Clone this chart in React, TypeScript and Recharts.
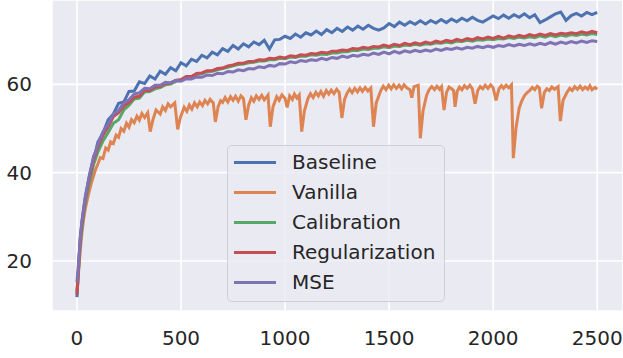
import { LineChart, Line, XAxis, YAxis, CartesianGrid, Legend } from 'recharts';

// training steps shared by the four smooth curves
const steps = [
  0, 8, 16, 24, 32, 40, 50, 60, 70, 80, 90, 100,
  125, 150, 175, 200, 225, 250, 275, 300, 325, 350,
  375, 400, 425, 450, 475, 500, 525, 550, 575, 600,
  625, 650, 675, 700, 725, 750, 775, 800, 825, 850,
  875, 900, 925, 950, 975, 1000, 1025, 1050, 1075, 1100,
  1125, 1150, 1175, 1200, 1225, 1250, 1275, 1300, 1325, 1350,
  1375, 1400, 1425, 1450, 1475, 1500, 1525, 1550, 1575, 1600,
  1625, 1650, 1675, 1700, 1725, 1750, 1775, 1800, 1825, 1850,
  1875, 1900, 1925, 1950, 1975, 2000, 2025, 2050, 2075, 2100,
  2125, 2150, 2175, 2200, 2225, 2250, 2275, 2300, 2325, 2350,
  2375, 2400, 2425, 2450, 2475, 2500,
];

const baseline = [
  11.8, 18.6, 25.2, 28.9, 31.6, 34.3, 36.9, 39.4, 41.3, 43.7, 44.8, 46.9,
  49.0, 52.0, 53.3, 55.7, 56.0, 58.4, 58.5, 60.6, 60.2, 61.9,
  61.2, 63.0, 62.3, 63.8, 63.1, 64.9, 64.2, 65.7, 65.2, 66.6,
  66.0, 67.3, 66.7, 68.1, 67.5, 68.8, 68.0, 69.2, 68.5, 69.6,
  69.0, 70.0, 68.0, 70.1, 70.2, 70.9, 70.4, 71.4, 70.7, 71.7,
  71.2, 72.1, 71.3, 72.4, 71.7, 72.7, 72.0, 73.0, 72.3, 73.2,
  72.5, 73.4, 72.7, 72.3, 72.8, 73.8, 73.1, 74.1, 73.4, 74.2,
  73.6, 74.4, 73.7, 74.5, 73.9, 74.7, 74.0, 74.8, 74.2, 75.0,
  74.4, 75.2, 74.5, 74.1, 74.8, 75.5, 74.9, 75.7, 75.0, 75.8,
  75.2, 76.0, 75.1, 75.8, 74.0, 74.6, 75.3, 76.0, 76.4, 74.5,
  75.6, 76.1, 75.5, 76.3, 75.8, 76.3,
];

const calibration = [
  12.8, 18.2, 24.0, 27.6, 30.5, 33.0, 35.5, 37.8, 39.8, 41.9, 43.2, 44.6,
  47.2, 49.1, 51.2, 52.0, 54.2, 55.3, 56.7, 56.9, 58.3, 58.4,
  59.0, 59.3, 59.9, 60.1, 60.7, 60.9, 61.6, 61.7, 62.3, 62.4,
  62.9, 63.0, 63.3, 63.6, 63.9, 64.2, 64.5, 64.6, 64.9, 65.0,
  65.3, 65.3, 65.6, 65.6, 65.9, 65.8, 66.2, 66.1, 66.4, 66.4,
  66.7, 66.6, 66.9, 66.8, 67.1, 67.1, 67.4, 67.4, 67.7, 67.7,
  68.0, 67.9, 68.2, 68.2, 68.5, 68.3, 68.7, 68.6, 68.9, 68.8,
  69.1, 68.9, 69.2, 69.1, 69.4, 69.3, 69.6, 69.4, 69.8, 69.7,
  70.0, 69.8, 70.1, 70.0, 70.3, 70.1, 70.4, 70.3, 70.6, 70.4,
  70.7, 70.5, 70.8, 70.6, 71.0, 70.7, 71.1, 70.8, 71.2, 70.9,
  71.3, 71.1, 71.4, 71.2, 71.5, 71.3,
];

const regularization = [
  12.3, 18.9, 24.8, 28.4, 31.3, 33.9, 36.4, 38.8, 40.8, 42.9, 44.3, 45.8,
  48.5, 50.4, 52.7, 53.6, 55.1, 55.9, 57.1, 57.3, 58.7, 58.6,
  59.4, 59.5, 60.2, 60.3, 60.9, 61.1, 61.8, 61.8, 62.5, 62.6,
  63.1, 63.1, 63.6, 63.7, 64.2, 64.4, 64.8, 64.8, 65.2, 65.2,
  65.6, 65.5, 65.9, 65.8, 66.2, 66.0, 66.5, 66.3, 66.7, 66.6,
  67.0, 66.9, 67.3, 67.1, 67.5, 67.5, 67.8, 67.7, 68.1, 68.0,
  68.4, 68.2, 68.6, 68.5, 68.9, 68.6, 69.1, 68.8, 69.3, 69.0,
  69.4, 69.1, 69.6, 69.3, 69.8, 69.5, 70.0, 69.7, 70.2, 69.9,
  70.4, 70.1, 70.6, 70.3, 70.7, 70.4, 70.9, 70.5, 71.0, 70.7,
  71.1, 70.8, 71.3, 71.0, 71.4, 71.1, 71.5, 71.2, 71.6, 71.4,
  71.7, 71.5, 71.9, 71.6, 72.0, 71.7,
];

const mse = [
  15.2, 19.8, 25.5, 29.0, 32.0, 34.6, 37.0, 39.4, 41.6, 43.5, 44.8, 46.4,
  49.2, 51.0, 53.3, 54.1, 55.8, 56.5, 57.8, 58.1, 59.1, 59.0,
  59.8, 59.8, 60.5, 60.4, 60.9, 60.7, 61.3, 61.2, 61.7, 61.6,
  62.1, 62.0, 62.5, 62.4, 62.9, 62.8, 63.3, 63.1, 63.6, 63.5,
  64.0, 63.8, 64.3, 64.1, 64.7, 64.6, 65.1, 64.9, 65.4, 65.2,
  65.6, 65.4, 65.9, 65.6, 66.1, 65.9, 66.4, 66.1, 66.6, 66.4,
  66.8, 66.6, 67.1, 66.8, 67.3, 66.9, 67.5, 67.1, 67.6, 67.3,
  67.7, 67.4, 67.8, 67.5, 68.0, 67.7, 68.1, 67.9, 68.3, 68.0,
  68.4, 68.2, 68.6, 68.3, 68.7, 68.4, 68.8, 68.6, 69.0, 68.7,
  69.1, 68.8, 69.2, 68.9, 69.3, 69.0, 69.5, 69.1, 69.6, 69.3,
  69.7, 69.4, 69.8, 69.5, 69.9, 69.7,
];

// vanilla has its own steps so the sharp dips land where they are
const vanillaSteps = [
  0, 8, 16, 24, 32, 40, 50, 60, 70, 80, 90, 100,
  112, 125, 138, 150, 162, 175, 188, 200, 212, 225, 238, 250, 262, 275, 288, 300, 312, 325,
  340, 352, 365, 380, 400, 412, 425, 438, 450, 470,
  484, 497, 515, 528, 540, 552, 565, 578, 590, 603, 615, 628, 640,
  655, 665, 678, 690, 700, 712, 725, 738, 750, 762, 775, 788, 800,
  812, 825, 838, 850, 862, 875, 888, 900, 918, 929, 942,
  960, 972, 985, 1000, 1010, 1022, 1035, 1045, 1057, 1068,
  1080, 1093, 1110, 1122, 1135, 1148, 1160, 1172, 1185, 1198, 1210,
  1222, 1235, 1248, 1260, 1273, 1286, 1298, 1310, 1322, 1335, 1348, 1360,
  1372, 1385, 1398, 1412, 1425, 1438, 1460, 1472, 1485, 1498, 1510,
  1522, 1535, 1548, 1560, 1572, 1585, 1600, 1609, 1620, 1640,
  1650, 1663, 1680, 1692, 1705, 1718, 1730, 1742, 1752, 1764,
  1776, 1788, 1800, 1810, 1817, 1827, 1838, 1850, 1862, 1875,
  1888, 1900, 1913, 1926, 1938, 1950, 1962, 1975, 1988, 2000, 2014,
  2028, 2040, 2050, 2062, 2075, 2088, 2097, 2110, 2125,
  2138, 2150, 2162, 2175, 2188, 2200, 2212, 2222, 2233, 2246, 2258, 2270,
  2282, 2295, 2312, 2323, 2336, 2355, 2368, 2380, 2392, 2405,
  2418, 2430, 2442, 2455, 2465, 2475, 2490, 2500,
];

const vanilla = [
  13.2, 17.8, 22.5, 26.5, 29.5, 31.8, 34.0, 36.0, 37.8, 39.3, 40.8, 41.9,
  43.4, 43.2, 45.6, 45.1, 47.0, 46.6, 48.5, 48.0, 50.0, 49.4, 51.2, 50.3, 52.0, 51.3, 52.8, 51.9, 53.4, 52.5,
  53.6, 49.3, 52.0, 54.2, 53.3, 54.9, 54.1, 55.6, 54.9, 55.8,
  49.8, 52.5, 54.8, 53.9, 55.3, 54.4, 55.8, 54.9, 56.0, 55.2, 56.4, 55.6, 56.6,
  55.8, 51.5, 54.9, 56.3, 55.9, 57.0, 56.0, 57.2, 56.4, 57.3, 56.2, 57.4, 56.8,
  52.0, 55.3, 57.0, 56.2, 57.4, 56.6, 57.5, 56.5, 57.6, 50.4, 54.9,
  57.2, 56.4, 57.6, 56.8, 54.8, 57.4, 56.6, 57.8, 56.9, 57.6,
  49.3, 54.0, 56.8, 57.9, 57.0, 58.2, 57.4, 58.4, 57.3, 58.6, 57.8,
  58.7, 57.9, 58.9, 58.2, 52.4, 56.6, 58.0, 58.9, 58.1, 59.1, 58.3, 59.2,
  58.4, 59.3, 58.5, 59.2, 50.4, 55.8, 58.6, 59.6, 58.8, 59.8, 59.0,
  59.9, 59.1, 59.8, 59.0, 59.9, 59.2, 58.8, 57.0, 59.5, 59.8,
  47.8, 54.0, 57.5, 58.8, 59.5, 58.8, 59.6, 58.9, 59.5, 54.2,
  58.2, 59.4, 59.0, 58.6, 54.9, 58.4, 59.4, 58.8, 59.7, 59.1,
  59.8, 59.0, 55.6, 58.6, 59.5, 59.0, 59.8, 59.1, 59.9, 59.2, 56.4,
  59.0, 59.7, 59.1, 59.8, 59.2, 59.9, 43.3, 50.2, 54.6,
  56.3, 57.4, 58.1, 58.6, 59.3, 58.8, 59.6, 59.2, 54.6, 58.2, 59.0, 58.6,
  59.4, 58.9, 59.5, 51.7, 56.4, 58.2, 59.1, 58.6, 59.5, 58.9,
  59.6, 58.8, 59.4, 58.9, 59.7, 58.8, 59.3, 58.9,
];

const xTicks = [0, 500, 1000, 1500, 2000, 2500];
const yTicks = [20, 40, 60];

const series = [
  { name: 'Baseline', color: '#4C72B0' },
  { name: 'Vanilla', color: '#DD8452' },
  { name: 'Calibration', color: '#55A868' },
  { name: 'Regularization', color: '#C44E52' },
  { name: 'MSE', color: '#8172B3' },
];

const rows = steps.map((x, i) => ({
  x,
  Baseline: baseline[i],
  Calibration: calibration[i],
  Regularization: regularization[i],
  MSE: mse[i],
}));

const vanillaRows = vanillaSteps.map((x, i) => ({ x, Vanilla: vanilla[i] }));

const font = "'DejaVu Sans', sans-serif";
const textColor = '#262626';

const LegendBox = () => (
  <div
    style={{
      background: 'rgba(234,234,242,0.8)',
      border: '1px solid #cfcfd5',
      borderRadius: 5,
      width: 218,
      height: 157,
      boxSizing: 'border-box',
      padding: '1px 0 0 6px',
      fontFamily: font,
      fontSize: 20,
      color: textColor,
    }}
  >
    {series.map(s => (
      <div key={s.name} style={{ display: 'flex', alignItems: 'center', height: 30 }}>
        <span style={{ display: 'inline-block', width: 42, borderTop: `3px solid ${s.color}`, marginRight: 16 }} />
        <span>{s.name}</span>
      </div>
    ))}
  </div>
);

const App = () => {
  const tick = { fill: textColor, fontSize: 20, fontFamily: font };
  return (
    <div style={{ position: 'absolute', left: 0, top: 0 }}>
      <LineChart width={623} height={358} data={rows} margin={{ top: 0, right: 0, bottom: 0, left: 0 }}>
        <CartesianGrid stroke="#ffffff" strokeWidth={1.6} fill="#EAEAF2" fillOpacity={1} />
        <XAxis
          dataKey="x"
          type="number"
          domain={[-120, 2624]}
          ticks={xTicks}
          allowDataOverflow
          axisLine={false}
          tickLine={false}
          tickSize={0}
          tickMargin={20}
          height={47}
          tick={tick}
        />
        <YAxis
          type="number"
          domain={[8.66, 79.12]}
          ticks={yTicks}
          allowDataOverflow
          axisLine={false}
          tickLine={false}
          tickSize={0}
          tickMargin={20}
          width={52}
          tick={tick}
        />
        <Legend
          layout="vertical"
          align="center"
          verticalAlign="middle"
          content={<LegendBox />}
          wrapperStyle={{ left: 227, top: 145, width: 'auto', height: 'auto' }}
        />
        <Line data={rows} dataKey="Baseline" stroke={series[0].color} strokeWidth={3} dot={false} isAnimationActive={false} />
        <Line data={vanillaRows} dataKey="Vanilla" stroke={series[1].color} strokeWidth={3} dot={false} isAnimationActive={false} />
        <Line data={rows} dataKey="Calibration" stroke={series[2].color} strokeWidth={3} dot={false} isAnimationActive={false} />
        <Line data={rows} dataKey="Regularization" stroke={series[3].color} strokeWidth={3} dot={false} isAnimationActive={false} />
        <Line data={rows} dataKey="MSE" stroke={series[4].color} strokeWidth={3} dot={false} isAnimationActive={false} />
      </LineChart>
    </div>
  );
};

export default App;
